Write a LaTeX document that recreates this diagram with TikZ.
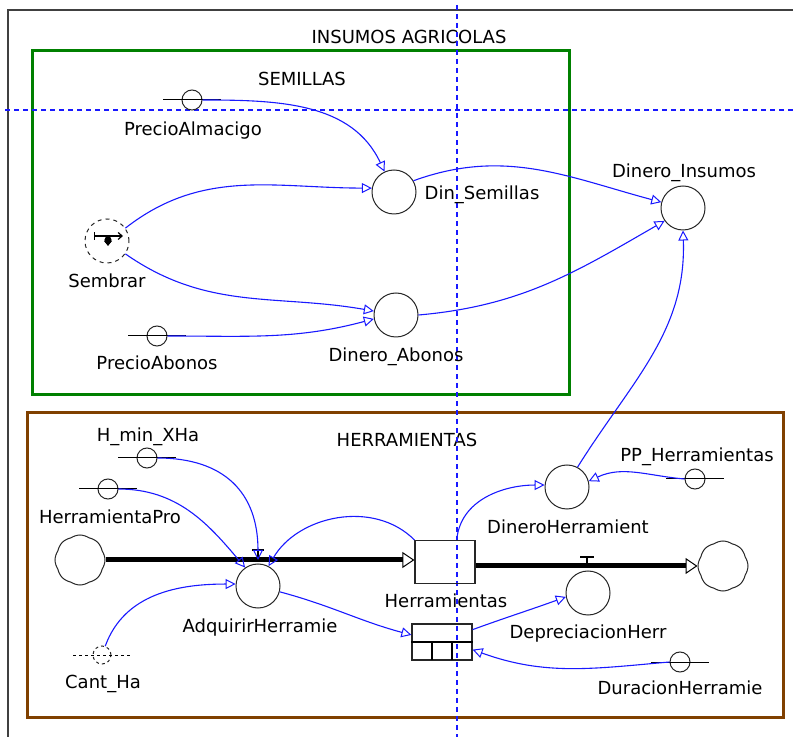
\documentclass[tikz,border=0pt]{standalone}
\usepackage{fontspec}
\setmainfont{DejaVu Sans}
\usetikzlibrary{arrows.meta,shapes.symbols}
\definecolor{semgreen}{RGB}{0,128,0}
\definecolor{herbrown}{RGB}{128,64,0}
\definecolor{linkblue}{RGB}{25,25,255}
\begin{document}
\begin{tikzpicture}[x=0.5pt,y=-0.5pt,
  every node/.style={font=\fontsize{9}{11}\selectfont},
  lbl/.style={inner sep=0pt,text height=6.5pt,text depth=0pt},
  aux/.style={circle,draw=black!85,line width=0.5pt,minimum size=22pt,inner sep=0pt},
  cnst/.style={circle,draw=black!85,line width=0.5pt,minimum size=10pt,inner sep=0pt},
  stock/.style={draw=black!85,line width=0.6pt,minimum width=30pt,minimum height=21.5pt,inner sep=0pt},
  source/.style={cloud,cloud puffs=8,cloud puff arc=70,aspect=1,draw=black!85,line width=0.5pt,minimum size=25pt,inner sep=0pt},
  link/.style={draw=linkblue,line width=0.55pt,-{Triangle[open,length=5pt,width=5pt,line width=0.5pt]}},
  pipe/.style={line width=2.5pt,-{Triangle[open,length=6pt,width=8pt,line width=0.5pt]}},
  cline/.style={line width=0.5pt},
  rejilla/.style={draw=linkblue,line width=0.6pt,dash pattern=on 2.5pt off 2pt}]
\useasboundingbox (0,0) rectangle (793,737);
\draw[black!75,line width=1pt] (8,737) -- (8,10) -- (793,10);
\node[lbl] (tInsumos) at (409,37) {INSUMOS AGRICOLAS};
\draw[semgreen,line width=1.5pt] (32,51) rectangle (569,395);
\node[lbl] (tSemillas) at (302,79) {SEMILLAS};
\draw[herbrown,line width=1.5pt] (27,413) rectangle (783,717);
\node[lbl] (tHerram) at (407,440) {HERRAMIENTAS};
\draw[rejilla] (5,110) -- (793,110);
\draw[rejilla] (457,5) -- (457,737);

% semillas
\node[cnst] (precioAlm) at (192,100) {};
\node[lbl] (precioAlmL) at (193,129) {PrecioAlmacigo};
\node[aux] (dinSem) at (394,192) {};
\node[lbl] (dinSemL) at (482,193) {Din\_Semillas};
\node[aux,dash pattern=on 2pt off 2pt] (sembrar) at (107,241) {};
\node[lbl] (sembrarL) at (107,281) {Sembrar};
\node[cnst] (precioAbo) at (157,336) {};
\node[lbl] (precioAboL) at (157,363) {PrecioAbonos};
\node[aux] (dinAbo) at (396,315) {};
\node[lbl] (dinAboL) at (396,355) {Dinero\_Abonos};
\node[aux] (dinIns) at (683,208) {};
\node[lbl] (dinInsL) at (684,171) {Dinero\_Insumos};

\draw[line width=0.6pt,{Bar[width=4pt]}-{Straight Barb[length=2pt,width=3.5pt]}] (sembrar.center) +(-13,-5) -- +(16,-5);
\fill ([shift={(1,-1)}]sembrar.center) circle[radius=1.8pt];
\fill ([shift={(-3,0)}]sembrar.center) -- ([shift={(5,0)}]sembrar.center) -- ([shift={(1,5)}]sembrar.center) -- cycle;

% herramientas
\node[cnst] (hMin) at (147,458) {};
\node[lbl] (hMinL) at (148,435) {H\_min\_XHa};
\node[cnst] (herrPro) at (108,489) {};
\node[lbl] (herrProL) at (110,517) {HerramientaPro};
\node[source] (nubeIzq) at (80,560) {};
\node[stock] (herr) at (445,562) {};
\node[lbl] (herrL) at (446,601) {Herramientas};
\node[source] (nubeDer) at (723,566) {};
\node[aux] (adq) at (258,586) {};
\node[lbl] (adqL) at (260,626) {AdquirirHerramie};
\node[aux] (dep) at (588,593) {};
\node[lbl] (depL) at (588,632) {DepreciacionHerr};
\node[aux] (dinHer) at (567,487) {};
\node[lbl] (dinHerL) at (568,527) {DineroHerramient};
\node[cnst] (ppHer) at (695,479) {};
\node[lbl] (ppHerL) at (697,455) {PP\_Herramientas};
\node[cnst] (durHer) at (680,662) {};
\node[lbl] (durHerL) at (680,688) {DuracionHerramie};
\node[cnst,minimum size=9pt,dash pattern=on 1.5pt off 1.5pt] (cantHa) at (102,655) {};
\node[lbl] (cantHaL) at (103,682) {Cant\_Ha};
\node[stock,minimum height=18pt] (ret) at (442,642) {};
\draw[line width=0.6pt] (ret.west) -- (ret.east);
\draw[line width=0.6pt] (ret.center) +(-10,0) -- +(-10,18) +(10,0) -- +(10,18);

\foreach \c in {precioAlm,precioAbo,hMin,herrPro,ppHer,durHer}
  \draw[cline] (\c.center) +(-29,0) -- +(29,0);
\draw[cline,dash pattern=on 1.5pt off 1.5pt] (cantHa.center) +(-29,0) -- +(31,0);

% flujos y valvulas
\coordinate (vAdq) at (258,560);
\coordinate (vDep) at (587,566);
\draw[pipe] (nubeIzq.east) -- (nubeIzq.east -| herr.west);
\draw[pipe] (herr.east |- nubeDer.west) -- (nubeDer.west);
\draw[line width=0.6pt] (vAdq) -- +(0,-10) +(-6,-10) -- +(6,-10);
\draw[line width=0.6pt] (vDep) -- +(0,-9) +(-7,-9) -- +(7,-9);

% enlaces
\draw[link] (precioAlm.east) to[out=0,in=115] (dinSem.115);
\draw[link] (sembrar.35) to[out=38,in=180] (dinSem.170);
\draw[link] (sembrar.-35) to[out=-35,in=170] (dinAbo.170);
\draw[link] (precioAbo.east) to[out=0,in=195] (dinAbo.190);
\draw[link] (dinSem.30) to[out=20,in=165] (dinIns.165);
\draw[link] (dinAbo.east) to[out=5,in=210] (dinIns.215);
\draw[link] (dinHer.62) to[out=58,in=-88] (dinIns.south);
\draw[link] (hMin.east) to[out=0,in=90,looseness=1.2] (vAdq);
\draw[link] (herrPro.east) to[out=0,in=130] (adq.125);
\draw[link] (herr.north west) to[out=135,in=60] (adq.62);
\draw[link] (cantHa.70) to[out=70,in=180] (adq.175);
\draw[link] (adq.-15) to[out=-15,in=165] (ret.167);
\draw[link] (herr.62) to[out=85,in=180] (dinHer.175);
\draw[link] (ppHer.west) to[out=175,in=25] (dinHer.15);
\draw[link] (ret.22) to[out=20,in=200] (dep.190);
\draw[link] (durHer.west) to[out=185,in=-20] (ret.-14);
\end{tikzpicture}
\end{document}
